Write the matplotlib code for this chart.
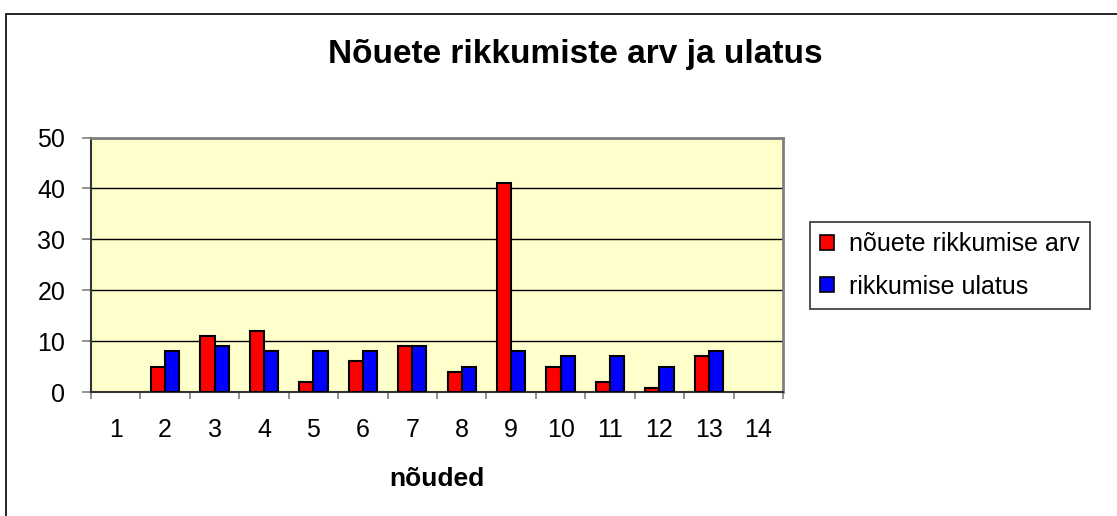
import numpy as np
import matplotlib.pyplot as plt
from matplotlib.patches import Patch, Rectangle

categories = ['1', '2', '3', '4', '5', '6', '7', '8', '9', '10', '11', '12', '13', '14']
arv = [0, 5, 11, 12, 2, 6, 9, 4, 41, 5, 2, 0.7, 7, 0]
ulatus = [0, 8, 9, 8, 8, 8, 9, 5, 8, 7, 7, 5, 8, 0]

plt.rcParams['font.family'] = ['Liberation Sans', 'DejaVu Sans']

fig = plt.figure(figsize=(11.17, 5.16), dpi=100)
ax = fig.add_axes([0.0815, 0.2403, 0.6195, 0.4932])

# outer chart border (right/bottom edges run off the picture)
fig.patches.append(Rectangle((6/1117, -0.5), 1.2, 1.5 - 13.5/516, transform=fig.transFigure,
                             fill=False, edgecolor='black', linewidth=1.2))

x = np.arange(len(categories))
w = 1/3.5
# empty categories get no bar at all
red = np.array([v if v > 0 else np.nan for v in arv])
blue = np.array([v if v > 0 else np.nan for v in ulatus])
ax.bar(x - w/2, red, w, color='#FF0000', edgecolor='black', linewidth=1.5, zorder=3)
ax.bar(x + w/2, blue, w, color='#0000FF', edgecolor='black', linewidth=1.5, zorder=3)

ax.set_facecolor('#FFFFCC')
ax.set_xlim(-0.5, len(categories) - 0.5)
ax.set_ylim(0, 50)
ax.set_yticks(range(0, 51, 10))
ax.yaxis.grid(True, color='black', linewidth=1)
ax.set_axisbelow(True)

ax.set_xticks(x)
ax.set_xticklabels(categories)
ax.set_xticks(np.arange(-0.5, len(categories)), minor=True)
ax.tick_params(axis='x', which='major', length=0, pad=19, labelsize=18)
ax.tick_params(axis='x', which='minor', length=5, width=1.2, color='#808080')
ax.tick_params(axis='y', length=6.5, width=1.2, color='#808080', pad=12, labelsize=18)

for s in ['left', 'bottom']:
    ax.spines[s].set_color('#333333')
    ax.spines[s].set_linewidth(1.5)
for s in ['top', 'right']:
    ax.spines[s].set_color('#808080')
    ax.spines[s].set_linewidth(2)

ax.set_xlabel('nõuded', fontsize=19, fontweight='bold', labelpad=18)
fig.text(0.515, 1 - 55/516, 'Nõuete rikkumiste arv ja ulatus', ha='center', va='center',
         fontsize=24, fontweight='bold')

handles = [Patch(facecolor='#FF0000', edgecolor='black', linewidth=1.2),
           Patch(facecolor='#0000FF', edgecolor='black', linewidth=1.2)]
leg = fig.legend(handles, ['nõuete rikkumise arv', 'rikkumise ulatus'],
                 loc='upper left', bbox_to_anchor=(810/1117, 1 - 222/516),
                 fontsize=18, frameon=True, fancybox=False, edgecolor='black',
                 handlelength=0.55, handleheight=0.55, handletextpad=0.6,
                 labelspacing=0.75, borderpad=0.4, borderaxespad=0)
leg.get_frame().set_linewidth(1.2)

fig.savefig('out.png', dpi=100)
